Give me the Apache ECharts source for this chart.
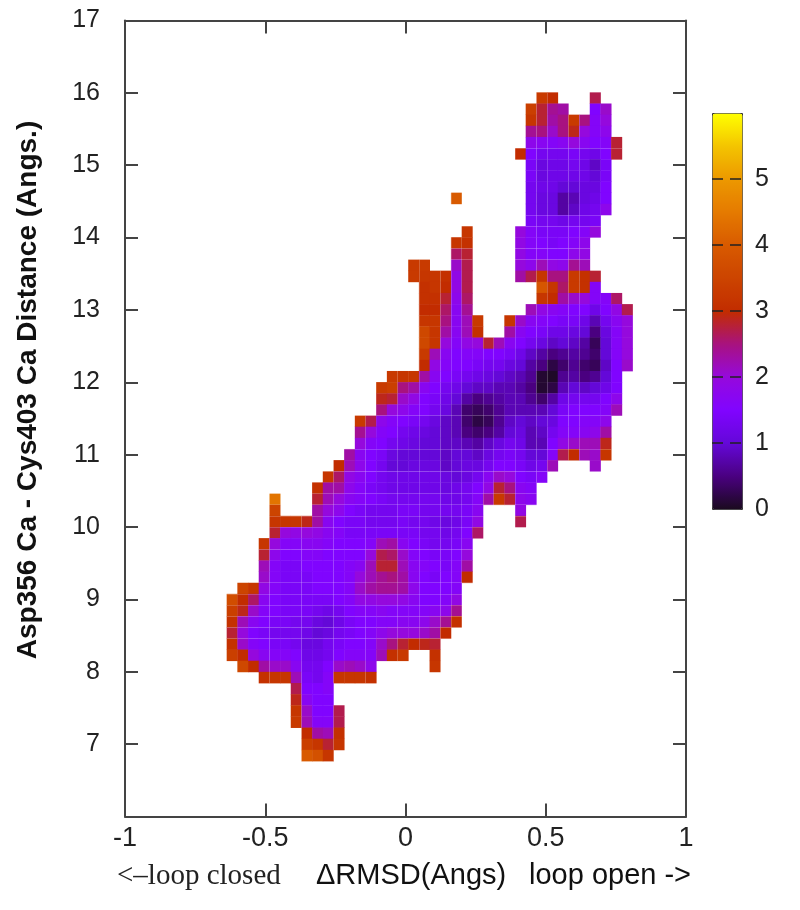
<!DOCTYPE html>
<html>
<head>
<meta charset="utf-8">
<title>Free energy map</title>
<script src="https://cdn.jsdelivr.net/npm/echarts@6/dist/echarts.min.js"></script>
<style>
  html, body { margin: 0; padding: 0; background: #fff; }
  #chart { width: 800px; height: 910px; }
</style>
</head>
<body>
<div id="chart"></div>
<script>
// ====== data ======
const _ = null; // empty bin
// bins: first column left edge / width, first row top edge / height
const binX0 = -0.6375, binW = 0.03807;
const binY0 = 16.007, binH = 0.154;

// one row per y bin, top to bottom: [first column, values...]
const energyRows = [
  [29, 3.3,3.0,_,_,_,2.7],
  [28, 3.4,2.8,2.4,2.3,_,_,1.5,2.1],
  [28, 3.2,2.8,2.3,2.5,3.3,2.5,1.6,2.0],
  [28, 2.4,2.5,2.1,2.5,2.9,2.0,1.6,1.8],
  [28, 1.8,1.7,1.6,1.7,2.0,1.7,1.5,1.6,2.8],
  [27, 3.0,1.5,1.3,1.3,1.3,1.4,1.3,1.2,1.5,2.8],
  [28, 1.4,1.1,1.2,1.2,1.3,1.2,0.9,1.4],
  [28, 1.4,1.1,1.2,1.2,1.2,1.2,1.0,1.4],
  [28, 1.3,1.2,1.2,1.0,1.0,1.1,1.1,1.5],
  [21, 4.0,_,_,_,_,_,_,1.3,1.1,1.1,0.7,0.8,1.1,1.2,1.5],
  [28, 1.3,1.1,1.1,0.7,0.9,1.2,1.3,1.8],
  [28, 1.4,1.3,1.3,1.2,1.3,1.3,1.4],
  [22, 3.2,_,_,_,_,2.0,1.6,1.4,1.4,1.4,1.5,1.6,2.0],
  [21, 3.2,3.1,_,_,_,_,1.9,1.6,1.5,1.4,1.5,1.6,1.8],
  [21, 2.6,2.8,_,_,_,_,1.9,1.6,1.6,1.5,1.5,1.8,1.9],
  [17, 3.3,3.3,_,_,2.1,2.7,_,_,_,_,2.0,1.8,2.2,1.9,1.8,2.4,2.2],
  [17, 3.3,3.2,3.2,3.1,1.9,2.7,_,_,_,_,2.3,2.7,3.2,2.5,2.5,3.3,3.1,2.8],
  [18, 3.1,3.2,3.0,1.9,2.7,_,_,_,_,_,_,3.9,3.2,2.6,3.3,3.1,1.6],
  [18, 3.1,3.1,2.8,1.8,2.6,_,_,_,_,_,_,3.2,3.0,2.3,2.1,2.0,1.6,1.6,2.6],
  [18, 3.0,3.0,2.6,1.7,2.4,_,_,_,_,_,2.2,1.9,1.7,1.6,1.5,1.5,1.2,1.5,1.9,2.7],
  [18, 3.2,3.2,2.5,1.7,2.2,3.3,_,_,3.2,2.1,1.7,1.6,1.5,1.4,1.4,1.2,0.8,1.3,1.7,2.0],
  [18, 3.6,3.2,2.3,1.7,2.2,3.1,_,_,2.3,1.7,1.5,1.4,1.2,1.2,1.1,1.0,0.5,1.1,1.6,2.0],
  [18, 3.6,3.2,2.0,1.6,1.9,2.0,2.8,2.2,1.7,1.5,1.3,1.1,0.9,1.0,0.9,0.7,0.3,1.0,1.6,2.0],
  [18, 3.3,2.2,1.7,1.5,1.6,1.6,1.5,1.5,1.4,1.2,0.9,0.7,0.5,0.6,0.7,0.6,0.4,1.0,1.6,2.0],
  [18, 3.0,1.9,1.6,1.5,1.5,1.4,1.3,1.3,1.1,1.0,0.7,0.5,0.2,0.4,0.6,0.4,0.3,0.9,1.5,2.1],
  [15, 3.3,3.2,3.2,2.3,1.7,1.5,1.4,1.3,1.2,1.1,1.0,0.9,0.8,0.6,0.1,0.05,0.6,0.7,0.5,0.6,1.0,1.5],
  [14, 3.3,3.4,2.5,2.3,1.7,1.5,1.3,1.2,1.0,0.9,0.9,0.8,0.8,0.7,0.5,0.1,0.2,0.8,1.0,0.9,1.0,1.2,1.5],
  [14, 2.9,2.8,2.1,1.9,1.5,1.4,1.2,1.0,0.7,0.5,0.6,0.7,0.8,0.8,0.6,0.4,0.7,1.2,1.3,1.3,1.3,1.5,1.8],
  [14, 2.5,2.0,1.8,1.6,1.5,1.3,1.1,0.8,0.4,0.3,0.4,0.6,0.8,0.8,0.8,0.8,1.0,1.4,1.5,1.5,1.5,1.6,2.2],
  [12, 3.3,2.7,1.8,1.6,1.5,1.4,1.3,1.1,0.9,0.8,0.4,0.2,0.3,0.6,0.9,1.0,0.9,1.0,1.1,1.5,1.5,1.6,1.6,1.8],
  [12, 2.4,2.0,1.6,1.5,1.3,1.2,1.1,1.0,0.9,0.8,0.5,0.4,0.5,0.7,1.0,1.1,0.8,0.9,1.3,1.6,1.6,1.7,1.8,2.3],
  [12, 2.0,1.6,1.5,1.3,1.2,1.1,1.0,1.0,0.9,0.9,0.8,0.7,0.9,1.1,1.3,1.2,0.8,0.8,1.5,1.9,2.1,2.2,2.2,2.9],
  [11, 2.3,1.7,1.5,1.4,1.1,1.0,1.0,1.0,1.0,0.9,1.0,1.0,0.9,1.1,1.3,1.4,1.3,1.0,1.0,1.6,2.7,3.0,2.2,2.1,3.2],
  [10, 3.0,2.2,1.8,1.5,1.3,1.0,1.0,1.1,1.1,1.1,0.9,1.0,1.1,1.1,1.3,1.5,1.5,1.4,1.2,1.3,2.2,_,_,_,2.1],
  [9, 3.2,2.6,1.9,1.7,1.5,1.3,1.2,1.2,1.2,1.2,1.2,1.1,1.0,1.1,1.3,1.7,2.1,2.0,1.5,1.4,1.6],
  [8, 3.1,2.3,2.3,1.8,1.6,1.4,1.3,1.2,1.2,1.2,1.2,1.2,1.1,1.2,1.3,1.5,1.9,2.8,2.5,1.7,1.6],
  [4, 4.4,_,_,_,2.8,2.2,2.0,1.7,1.6,1.5,1.4,1.3,1.3,1.3,1.3,1.3,1.2,1.2,1.3,1.6,2.3,3.3,2.8,1.8,1.7],
  [4, 3.5,_,_,_,2.3,2.0,1.8,1.5,1.4,1.3,1.3,1.3,1.4,1.4,1.3,1.3,1.3,1.3,1.4,1.7,_,_,_,1.9],
  [4, 3.2,3.2,3.2,2.9,2.3,1.7,1.5,1.4,1.4,1.3,1.3,1.3,1.4,1.3,1.3,1.2,1.1,1.2,1.4,1.9,_,_,_,2.7],
  [4, 2.8,2.0,1.9,2.0,1.9,1.7,1.6,1.4,1.4,1.4,1.4,1.4,1.4,1.4,1.3,1.3,1.2,1.3,1.5,2.6],
  [3, 3.2,2.0,1.6,1.6,1.7,1.7,1.6,1.5,1.5,1.5,1.6,2.2,2.3,1.7,1.5,1.4,1.3,1.3,1.4,1.7],
  [3, 2.8,1.8,1.5,1.5,1.6,1.6,1.5,1.5,1.5,1.5,2.0,2.7,2.6,2.1,1.6,1.5,1.4,1.4,1.5,2.0],
  [3, 2.2,1.6,1.4,1.4,1.5,1.5,1.5,1.5,1.6,1.7,2.2,2.8,2.8,2.2,1.7,1.6,1.5,1.4,1.6,2.3],
  [3, 2.1,1.6,1.4,1.4,1.4,1.5,1.5,1.5,1.6,2.0,2.2,2.4,2.5,2.3,1.7,1.5,1.4,1.5,1.6,3.0],
  [1, 3.5,3.2,1.9,1.6,1.4,1.4,1.4,1.5,1.5,1.5,1.6,2.1,2.3,2.4,2.4,2.3,1.8,1.5,1.5,1.5,1.6],
  [0, 3.7,3.0,2.6,1.7,1.5,1.4,1.4,1.4,1.4,1.4,1.5,1.6,1.9,1.9,2.0,2.0,1.9,1.7,1.5,1.5,1.6,1.9],
  [0, 3.4,2.9,2.1,1.6,1.5,1.4,1.4,1.4,1.3,1.2,1.3,1.5,1.6,1.6,1.7,1.6,1.6,1.6,1.6,1.7,1.8,2.4],
  [0, 3.1,2.2,1.7,1.5,1.4,1.4,1.3,1.3,1.1,1.0,1.2,1.4,1.5,1.5,1.6,1.6,1.7,1.7,1.8,2.1,2.4,3.1],
  [0, 2.8,2.0,1.5,1.4,1.3,1.3,1.3,1.2,1.0,1.1,1.3,1.4,1.5,1.6,1.8,2.0,2.0,2.0,2.1,2.3,3.0],
  [0, 3.1,2.1,1.6,1.5,1.4,1.4,1.3,1.1,1.1,1.3,1.4,1.5,1.5,1.6,2.1,2.5,2.8,3.0,2.9,2.8],
  [0, 3.4,3.0,2.0,1.7,1.6,1.6,1.5,1.2,1.2,1.3,1.5,1.6,1.6,1.6,2.2,3.1,3.3,_,_,3.1],
  [1, 3.6,3.0,2.3,2.1,2.1,1.7,1.3,1.3,1.5,2.1,2.2,2.1,1.8,_,_,_,_,_,3.2],
  [3, 3.1,3.2,3.2,2.2,1.4,1.3,1.6,3.2,3.2,3.2,3.1],
  [6, 2.7,1.5,1.5,1.6],
  [6, 2.9,1.7,1.5,1.5],
  [6, 3.2,2.1,1.5,1.5,2.7],
  [6, 3.3,2.2,1.6,1.6,2.7],
  [7, 3.0,2.3,2.2,3.1],
  [7, 3.4,3.2,2.8,3.2],
  [7, 4.0,3.8,3.2]
];

const xTicks = [-1, -0.5, 0, 0.5, 1];
const yTicks = [6, 7, 8, 9, 10, 11, 12, 13, 14, 15, 16, 17];
// palette stops from 0 to 6, every 0.5
const paletteStops = ['#1a0a1e', '#4a0080', '#6408d8', '#8004ff', '#9509dd', '#a81280', '#c22c00',
  '#cc4400', '#d85a00', '#e57a00', '#ec9800', '#f4c400', '#ffff00'];
// faint seams of the original bitmap, as bin indices
const seamCols = [4, 7, 10, 13, 16, 18, 20, 21, 22, 24, 25, 27, 29, 30, 32, 33];
const seamRows = [5, 11, 12, 14, 15, 29, 32, 34, 36, 37, 38, 39, 41, 44, 45, 46, 47, 48, 49];

// ====== build ======
const axisInk = '#444';
const textInk = '#222';

const cells = [];
energyRows.forEach((row, r) => {
    row.slice(1).forEach((v, i) => {
        if (v !== null) cells.push([binX0 + (row[0] + i) * binW, binY0 - r * binH, v]);
    });
});

const renderCell = (params, api) => {
    const x = api.value(0), y = api.value(1);
    const a = api.coord([x, y]);
    const b = api.coord([x + binW, y - binH]);
    return {
        type: 'rect',
        shape: { x: a[0], y: a[1], width: b[0] - a[0] + 0.4, height: b[1] - a[1] + 0.4 },
        style: { fill: api.visual('color') }
    };
};

const seamLines = [];
seamCols.forEach(c => {
    const x = binX0 + c * binW;
    seamLines.push([{ coord: [x, binY0 - 60 * binH] }, { coord: [x, binY0] }]);
});
seamRows.forEach(r => {
    const y = binY0 - r * binH;
    seamLines.push([{ coord: [binX0, y] }, { coord: [binX0 + 38 * binW, y] }]);
});

const tickLabel = { color: textInk, fontFamily: 'Liberation Sans', fontSize: 25 };
const tick = { show: true, inside: true, length: 13, lineStyle: { color: axisInk, width: 2 } };
const frameLine = { show: true, onZero: false, lineStyle: { color: axisInk, width: 2 } };

const myChart = echarts.init(document.getElementById('chart'));
myChart.setOption({
    animation: false,
    backgroundColor: '#fff',
    grid: [
        { left: 125, top: 20.5, width: 561, height: 796 },
        { left: 712, top: 113, width: 30, height: 396 }
    ],
    xAxis: [
        {
            type: 'value', gridIndex: 0, min: xTicks[0], max: xTicks[4], interval: 0.5,
            axisLine: frameLine, axisTick: tick, splitLine: { show: false },
            axisLabel: Object.assign({ margin: 9 }, tickLabel, { fontSize: 27 })
        },
        {
            type: 'value', gridIndex: 0, position: 'top', min: xTicks[0], max: xTicks[4], interval: 0.5,
            axisLine: frameLine, axisTick: tick, axisLabel: { show: false }, splitLine: { show: false }
        },
        { type: 'value', gridIndex: 1, min: 0, max: 1, show: false }
    ],
    yAxis: [
        {
            type: 'value', gridIndex: 0, min: yTicks[0], max: yTicks[11], interval: 1,
            axisLine: frameLine, axisTick: tick, splitLine: { show: false },
            // the reference leaves the bottom tick (6) unlabelled
            axisLabel: Object.assign({ margin: 25, showMinLabel: false, padding: [4, 0, 0, 0] }, tickLabel)
        },
        {
            type: 'value', gridIndex: 0, position: 'right', min: yTicks[0], max: yTicks[11], interval: 1,
            axisLine: frameLine, axisTick: tick, axisLabel: { show: false }, splitLine: { show: false }
        },
        // colour bar scale, sits on top of the visualMap strip
        {
            type: 'value', gridIndex: 1, position: 'right', min: 0, max: 6, interval: 1, z: 10,
            axisLine: { show: false }, axisTick: { show: false },
            axisLabel: Object.assign({ margin: 13, showMaxLabel: false }, tickLabel, { fontSize: 25 }),
            splitLine: {
                show: true, showMinLine: false, showMaxLine: false,
                lineStyle: { color: '#222', width: 1.5, type: [11, 7] }
            }
        }
    ],
    visualMap: {
        type: 'continuous', seriesIndex: 0, dimension: 2, min: 0, max: 6,
        left: 712, top: 113, itemWidth: 30, itemHeight: 396, padding: 0,
        calculable: false, realtime: false, text: null, showLabel: false,
        borderColor: '#333', borderWidth: 1, z: 4,
        inRange: { color: paletteStops }
    },
    series: [
        {
            type: 'custom',
            name: 'energy',
            xAxisIndex: 0, yAxisIndex: 0,
            renderItem: renderCell,
            encode: { x: 0, y: 1 },
            data: cells,
            markLine: {
                silent: true, symbol: 'none', label: { show: false },
                lineStyle: { color: 'rgba(255,255,255,0.2)', width: 1, type: 'solid' },
                data: seamLines
            }
        }
    ],
    graphic: [
        {
            type: 'text', x: 28, y: 390, rotation: Math.PI / 2,
            style: {
                text: 'Asp356 Ca - Cys403 Ca Distance (Angs.)', fill: '#111',
                font: 'bold 28px "Liberation Sans"', textAlign: 'center', textVerticalAlign: 'middle'
            }
        },
        {
            type: 'text', x: 117, y: 876,
            style: {
                text: '<\u2013loop closed', fill: '#222',
                font: '29px "Liberation Serif"', textAlign: 'left', textVerticalAlign: 'middle'
            }
        },
        {
            type: 'text', x: 316, y: 876,
            style: {
                text: '\u0394RMSD(Angs)', fill: '#111',
                font: '29px "Liberation Sans"', textAlign: 'left', textVerticalAlign: 'middle'
            }
        },
        {
            type: 'text', x: 529, y: 876,
            style: {
                text: 'loop open ->', fill: '#111',
                font: '29px "Liberation Sans"', textAlign: 'left', textVerticalAlign: 'middle'
            }
        }
    ]
});
window.addEventListener('resize', () => myChart.resize());
</script>
</body>
</html>
